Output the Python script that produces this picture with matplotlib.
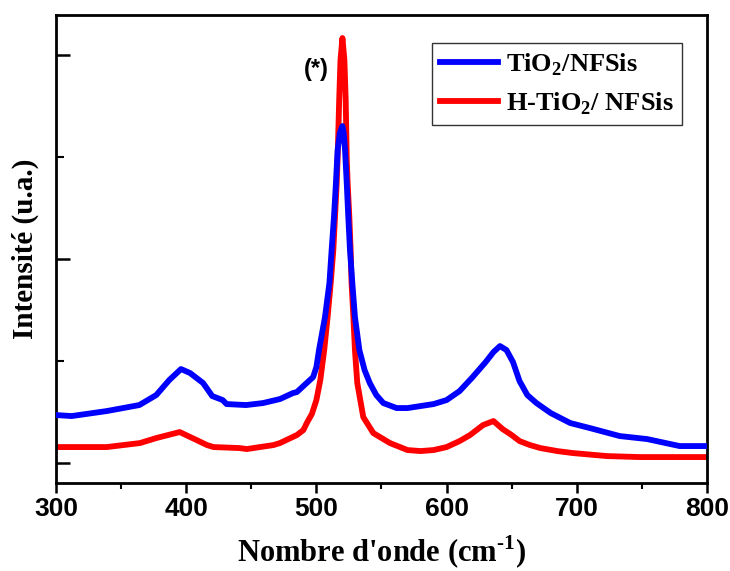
import matplotlib
matplotlib.use("Agg")
import matplotlib.pyplot as plt
from matplotlib.ticker import MultipleLocator

plt.rcParams['mathtext.fontset'] = 'custom'
plt.rcParams['mathtext.rm'] = 'Liberation Serif:bold'
plt.rcParams['mathtext.bf'] = 'Liberation Serif:bold'

# spectre TiO2/NFSis (intensite en u.a.)
x_blue = [300, 312, 339, 364, 377, 387, 396, 403, 413, 420, 428, 431, 446, 459,
          472, 482, 485, 492.5, 497.5, 500, 502, 506.6, 510, 511.7, 513.5, 515,
          516.3, 518, 520, 521, 522, 523.3, 524.5, 525.8, 527.6, 529.6, 533, 537,
          541, 546, 551.4, 561.6, 570, 580, 590, 600, 610, 620, 630, 636, 641,
          646, 651, 656, 662, 669, 680, 695, 710, 733, 754, 779, 800]
y_blue = [48, 47, 52, 58, 68, 83, 94, 90, 80, 67, 63, 59, 58, 60,
          64, 70, 71, 80, 86, 96, 113, 146, 180, 213, 246, 280,
          313, 330, 337, 330, 313, 280, 246, 213, 180, 146, 113, 93,
          80, 68, 60, 55, 55, 57, 59, 63, 72, 86, 101, 111, 117,
          113, 101, 82, 68, 60, 50, 40, 35, 27, 24, 17, 17]

# spectre H-TiO2/NFSis
x_red = [300, 339, 364.5, 377, 386, 395, 408, 416, 421, 441, 446.5, 467, 472,
         485, 487, 490, 493, 496.5, 500, 503, 506, 508.6, 511, 513, 514.3, 515.6,
         516.3, 517.5, 518.5, 520, 521.5, 522.5, 523.3, 524, 525.3, 526.3, 527,
         528.4, 529.6, 531.4, 536, 543.7, 556.5, 570, 580, 590, 600, 610, 618,
         628, 636, 643, 650, 656, 664, 672, 685, 697, 723, 748, 800]
y_red = [16, 16, 20, 25, 28, 31, 23, 18, 16, 15, 14, 18, 20,
         28, 30, 33, 41, 49, 63, 83, 113, 146, 180, 213, 246, 280,
         305, 363, 403, 425, 403, 363, 305, 280, 246, 213, 180,
         146, 113, 80, 46, 30, 20, 13, 12, 13, 16, 22, 28,
         38, 42, 34, 28, 22, 18, 15, 12, 10, 7, 6, 6]

fig = plt.figure(figsize=(7.30, 5.71), dpi=100)
ax = fig.add_axes([0.0767, 0.154, 0.8918, 0.8197])

ax.plot(x_blue, y_blue, color='#0000ff', linewidth=4.2, solid_joinstyle='round',
        label=r'TiO$_{\mathbf{2}}$/NFSis', zorder=3)
ax.plot(x_red, y_red, color='#ff0000', linewidth=4.2, solid_joinstyle='round',
        label=r'H-TiO$_{\mathbf{2}}$/ NFSis', zorder=2)

ax.set_xlim(300, 800)
ax.set_ylim(-20, 448)

ax.xaxis.set_major_locator(MultipleLocator(100))
ax.xaxis.set_minor_locator(MultipleLocator(50))
ax.set_yticks([0, 204, 408])
ax.set_yticks([102, 306], minor=True)
ax.set_yticklabels([])

ax.tick_params(axis='x', which='major', direction='out', length=7, width=1.8, pad=3)
ax.tick_params(axis='x', which='minor', direction='out', length=4, width=1.5)
ax.tick_params(axis='y', which='major', direction='in', length=10, width=1.8)
ax.tick_params(axis='y', which='minor', direction='in', length=6, width=1.5)
for lab in ax.get_xticklabels():
    lab.set_fontfamily('Liberation Sans')
    lab.set_fontweight('bold')
    lab.set_fontsize(19)

for sp in ax.spines.values():
    sp.set_linewidth(2.0)

ax.set_xlabel(r"Nombre d'onde (cm$^{\text{-1}}$)", fontfamily='Liberation Serif',
              fontweight='bold', fontsize=22, labelpad=9)
ax.set_ylabel('Intensité (u.a.)', fontfamily='Liberation Serif', fontweight='bold',
              fontsize=21, labelpad=9)

ax.text(500, 394, '(*)', fontfamily='Liberation Sans', fontweight='bold', fontsize=17,
        ha='center', va='center')

leg = ax.legend(loc='upper left', bbox_to_anchor=(0.578, 0.94), fancybox=False,
                framealpha=1, edgecolor='#333333', handlelength=2.2, handletextpad=0.3,
                borderpad=0.3, labelspacing=0.5, borderaxespad=0,
                prop={'family': 'Liberation Serif', 'weight': 'bold', 'size': 19})
leg.get_frame().set_linewidth(1.0)

fig.savefig('out.png', dpi=100)
